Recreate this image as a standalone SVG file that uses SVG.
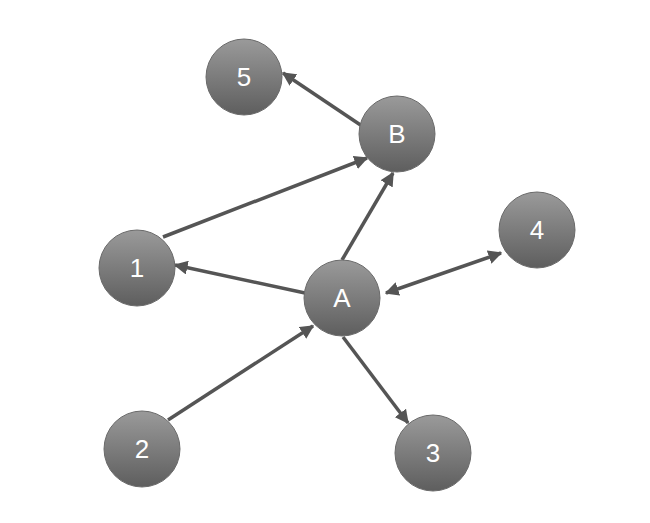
<svg xmlns="http://www.w3.org/2000/svg" width="650" height="523" viewBox="0 0 650 523">
<defs>
<linearGradient id="g" x1="0" y1="0" x2="0" y2="1"><stop offset="0" stop-color="#9a9a9a"/><stop offset="1" stop-color="#5e5e5e"/></linearGradient>
<marker id="ah" viewBox="0 0 10 10" refX="9" refY="5" markerWidth="4" markerHeight="4" orient="auto-start-reverse"><path d="M0,0 L10,5 L0,10 z" fill="#555"/></marker>
</defs>
<style>
.n circle{fill:url(#g);stroke:#6a6a6a;stroke-width:1}
.n text{font-family:"Liberation Sans",Arial,sans-serif;font-size:26px;fill:#fff;text-anchor:middle;dominant-baseline:central}
.e line{stroke:#555;stroke-width:3.5;marker-end:url(#ah)}
</style>
<rect width="650" height="523" fill="#fff"/>
<g id="connectors" class="e">
<line x1="362" y1="126" x2="283" y2="73"/>
<line x1="163" y1="237" x2="367" y2="158"/>
<line x1="342" y1="260" x2="393" y2="173"/>
<line x1="305" y1="293" x2="175" y2="265"/>
<line x1="386" y1="293" x2="501" y2="253" marker-start="url(#ah)"/>
<line x1="168" y1="420" x2="313" y2="326"/>
<line x1="343" y1="337" x2="408" y2="423"/>
</g>
<g id="n5" class="n"><circle cx="244" cy="77" r="38"/><text x="244" y="77">5</text></g>
<g id="nB" class="n"><circle cx="397" cy="134" r="38"/><text x="397" y="134">B</text></g>
<g id="n1" class="n"><circle cx="137" cy="268" r="38"/><text x="137" y="268">1</text></g>
<g id="nA" class="n"><circle cx="342" cy="298" r="38"/><text x="342" y="298">A</text></g>
<g id="n4" class="n"><circle cx="537" cy="230" r="38"/><text x="537" y="230">4</text></g>
<g id="n2" class="n"><circle cx="142" cy="449" r="38"/><text x="142" y="449">2</text></g>
<g id="n3" class="n"><circle cx="433" cy="453" r="38"/><text x="433" y="453">3</text></g>
</svg>
